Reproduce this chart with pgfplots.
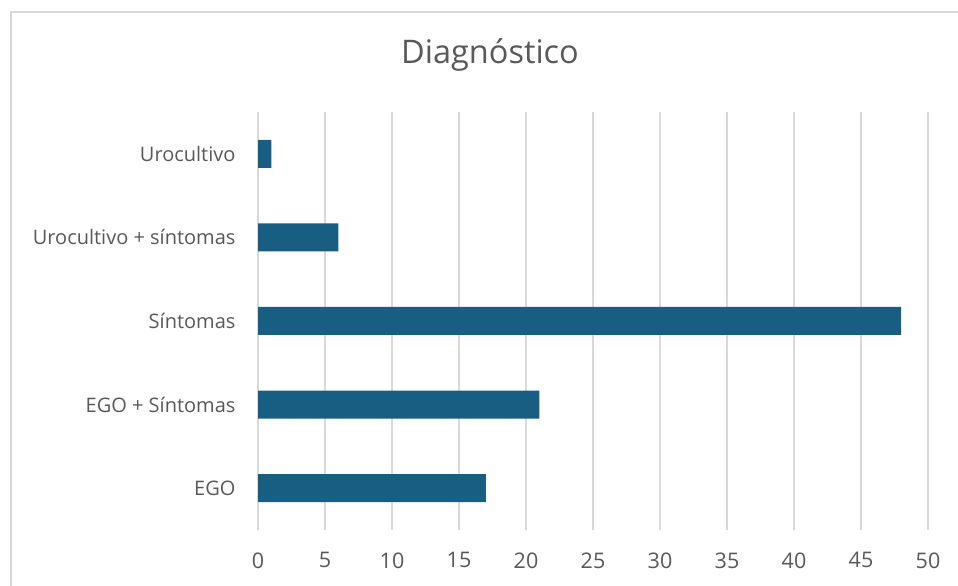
\documentclass[border=0pt]{standalone}
\usepackage{fontspec}
\setmainfont{Open Sans}
\usepackage{pgfplots}
\pgfplotsset{compat=1.18}
\definecolor{barblue}{HTML}{175E82}
\definecolor{gridgray}{HTML}{D9D9D9}
\definecolor{textgray}{HTML}{595959}
\begin{document}
\begin{tikzpicture}
% canvas and chart frame
\path[use as bounding box] (0pt,0pt) rectangle (958pt,586pt);
\draw[gridgray,line width=1.5pt] (11pt,0pt) -- (11pt,574pt) -- (958pt,574pt);
\node[text=textgray,font=\fontsize{32.5}{38}\selectfont] at (490pt,531pt) {Diagnóstico};
\begin{axis}[
  at={(258pt,56pt)}, anchor=south west,
  scale only axis, width=670pt, height=418pt,
  xbar, bar width=28pt,
  xmin=0, xmax=50, ymin=-0.5, ymax=4.5,
  xtick={0,5,...,50},
  ytick={0,1,2,3,4},
  yticklabels={EGO, EGO + Síntomas, Síntomas, Urocultivo + síntomas, Urocultivo},
  axis line style={draw=none},
  major tick length=0pt,
  xmajorgrids, major grid style={gridgray,line width=1.3pt},
  tick label style={text=textgray,font=\fontsize{20}{24}\selectfont},
  /pgf/number format/assume math mode=true,
  xticklabel style={yshift=-19pt,font=\fontsize{21.5}{24}\selectfont},
  yticklabel style={xshift=-19pt},
]
\addplot[fill=barblue,draw=none] coordinates {(17,0) (21,1) (48,2) (6,3) (1,4)};
\end{axis}
\end{tikzpicture}
\end{document}
